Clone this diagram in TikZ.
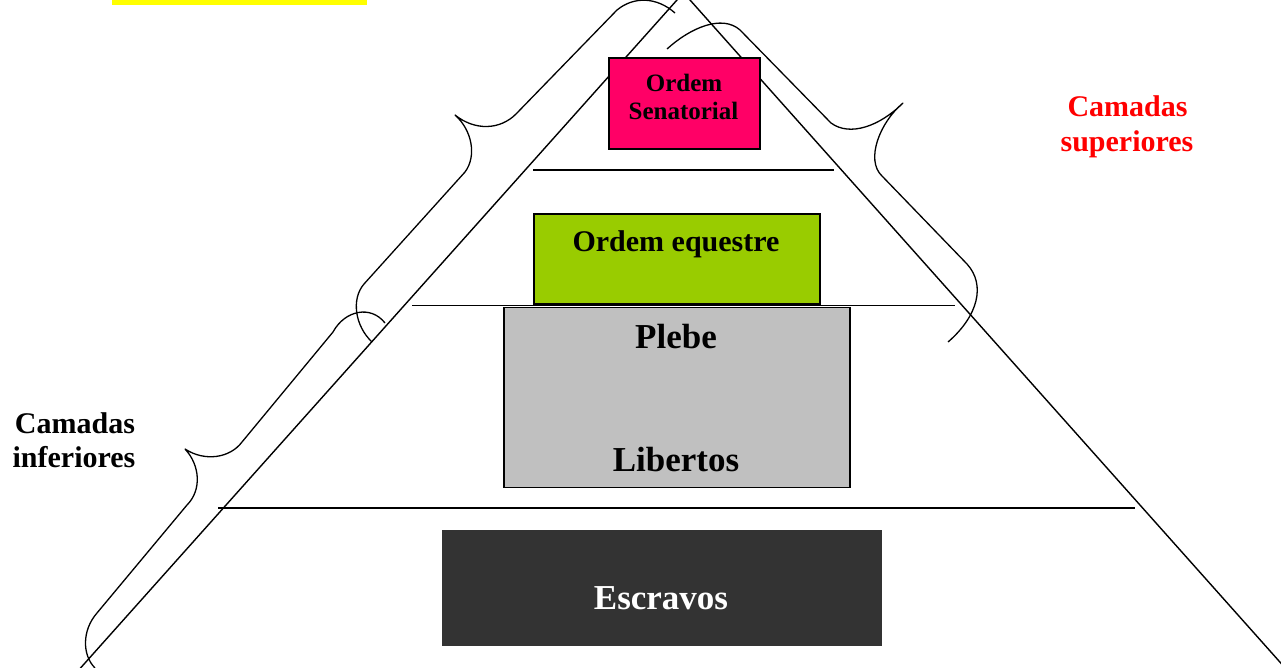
\documentclass[tikz,border=0pt]{standalone}
\usepackage{fontspec}
\setmainfont{Liberation Serif}
\definecolor{senatecol}{HTML}{FF0066}
\definecolor{equescol}{HTML}{99CC00}
\definecolor{plebecol}{HTML}{C0C0C0}
\definecolor{slavecol}{HTML}{333333}
\definecolor{hilite}{HTML}{FFFF00}
\definecolor{redtext}{HTML}{FF0000}
\begin{document}
\begin{tikzpicture}[x=1pt,y=-1pt,
  edge/.style={line width=1.4pt, black},
  bracepath/.style={line width=1.3pt, black, line join=round},
  tier/.style={draw=black, line width=1.6pt, rectangle, inner sep=0pt, anchor=north west},
  lblA/.style={font=\bfseries\fontsize{25}{29}\selectfont, anchor=base, inner sep=0pt},
  lblB/.style={font=\bfseries\fontsize{30}{34}\selectfont, anchor=base, inner sep=0pt},
  lblC/.style={font=\bfseries\fontsize{35}{40}\selectfont, anchor=base, inner sep=0pt},
]
\useasboundingbox (0,0) rectangle (1281,667);
\clip (0,0) rectangle (1281,667);

% yellow highlight remnant
\fill[hilite] (112,0) rectangle (367,5);

% triangle
\coordinate (apex) at (683.5,-7.3);
\coordinate (bl) at (69.8,680);
\coordinate (br) at (1295.9,680);
\draw[edge] (bl) -- (apex) -- (br);

% horizontal separators
\coordinate (h1a) at (533,170); \coordinate (h1b) at (834,170);
\coordinate (h2a) at (412,305.5); \coordinate (h2b) at (955,305.5);
\coordinate (h3a) at (218,508); \coordinate (h3b) at (1135,508);
\draw[edge] (h1a) -- (h1b);
\draw[edge] (h3a) -- (h3b);

% boxes
\node[tier, fill=senatecol, minimum width=151pt, minimum height=91pt] (sen) at (608,57) {};
\node[tier, fill=equescol, minimum width=286pt, minimum height=90pt] (eq) at (533,213) {};
\node[tier, fill=plebecol, minimum width=346pt, minimum height=180pt] (pl) at (503,306.5) {};
\node[tier, draw=slavecol, line width=0.5pt, fill=slavecol, minimum width=439pt, minimum height=115pt] (sl) at (442,530) {};
\draw[edge] (h2a) -- (h2b);

% texts
\node[lblA] (tsen1) at (684,91) {Ordem};
\node[lblA] (tsen2) at (683.5,119) {Senatorial};
\node[lblB] (teq) at (676,251) {Ordem equestre};
\node[lblC] (tpl) at (676,348) {Plebe};
\node[lblC] (tlib) at (676,471) {Libertos};
\node[lblC, text=white] (tsl) at (661,609) {Escravos};
\node[lblB, text=redtext] (tsup1) at (1127.5,116) {Camadas};
\node[lblB, text=redtext] (tsup2) at (1127,151) {superiores};
\node[lblB] (tinf1) at (75,433) {Camadas};
\node[lblB] (tinf2) at (74,467) {inferiores};

% upper-left brace
\draw[bracepath] (675,13) .. controls (657,-3) and (634,-4) .. (617,10)
  -- (516,114)
  .. controls (500,130) and (475,131) .. (455,115)
  .. controls (472,130) and (477,156) .. (465,172)
  -- (364,284)
  .. controls (351,299) and (355,326) .. (372,342);

% right brace
\draw[bracepath] (667,49) .. controls (690,28) and (722,14) .. (740,30)
  -- (831,123)
  .. controls (850,137) and (880,126) .. (903,103)
  .. controls (880,122) and (865,160) .. (882,176)
  -- (967,264)
  .. controls (986,285) and (978,316) .. (948,342);

% lower-left brace
\draw[bracepath] (385,323) .. controls (371,305) and (345,310) .. (333,332)
  -- (242,442)
  .. controls (230,458) and (205,462) .. (185,449)
  .. controls (200,465) and (202,490) .. (187,505)
  -- (97,613)
  .. controls (82,630) and (82,655) .. (95,668);
\end{tikzpicture}
\end{document}
